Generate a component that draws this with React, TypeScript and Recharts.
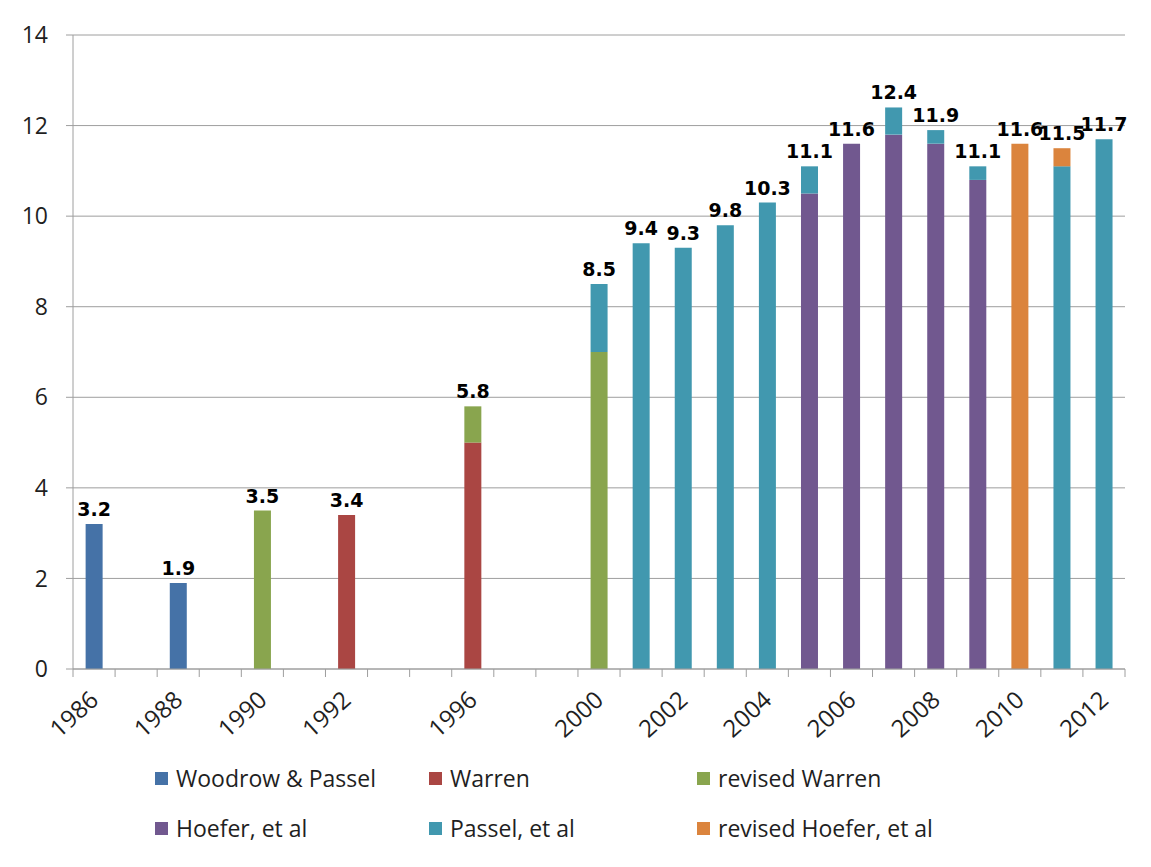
import { Bar, BarChart, CartesianGrid, LabelList, Legend, XAxis, YAxis } from "recharts";

// one slot per category on the axis; blank slots carry no label
const tickLabels = [
  "1986", "", "1988", "", "1990", "", "1992", "", "", "1996", "", "", "2000",
  "", "2002", "", "2004", "", "2006", "", "2008", "", "2010", "", "2012",
];

const woodrowPassel = [3.2, null, 1.9, null, null, null, null, null, null, null, null, null, null, null, null, null, null, null, null, null, null, null, null, null, null];
const warren = [null, null, null, null, null, null, 3.4, null, null, 5.0, null, null, null, null, null, null, null, null, null, null, null, null, null, null, null];
const revisedWarren = [null, null, null, null, 3.5, null, null, null, null, 0.8, null, null, 7.0, null, null, null, null, null, null, null, null, null, null, null, null];
const hoefer = [null, null, null, null, null, null, null, null, null, null, null, null, null, null, null, null, null, 10.5, 11.6, 11.8, 11.6, 10.8, null, null, null];
const passel = [null, null, null, null, null, null, null, null, null, null, null, null, 1.5, 9.4, 9.3, 9.8, 10.3, 0.6, null, 0.6, 0.3, 0.3, null, 11.1, 11.7];
const revisedHoefer = [null, null, null, null, null, null, null, null, null, null, null, null, null, null, null, null, null, null, null, null, null, null, 11.6, 0.4, null];

const SERIES = [
  { key: "woodrow", name: "Woodrow & Passel", values: woodrowPassel, color: "#4572A7" },
  { key: "warren", name: "Warren", values: warren, color: "#AA4643" },
  { key: "revWarren", name: "revised Warren", values: revisedWarren, color: "#89A54E" },
  { key: "hoefer", name: "Hoefer, et al", values: hoefer, color: "#71588F" },
  { key: "passel", name: "Passel, et al", values: passel, color: "#4198AF" },
  { key: "revHoefer", name: "revised Hoefer, et al", values: revisedHoefer, color: "#DB843D" },
];

const yTicks = [0, 2, 4, 6, 8, 10, 12, 14];

const CHART_W = 1139;
const CHART_H = 855;
const MARGIN = { top: 29, right: 20, bottom: 92, left: 0 };
const Y_AXIS_W = 67;
const PLOT_W = CHART_W - MARGIN.left - MARGIN.right - Y_AXIS_W;
const BAND = PLOT_W / tickLabels.length;
const GRID = "#9e9e9e";
const TEXT = "#1f1f1f";
const FONT = "'Open Sans', sans-serif";

// each row gets the series values plus a "<key>Top" field holding the stack total,
// set only on the series that sits on top of that stack
const data = tickLabels.map((_, i) => {
  const row: Record<string, number | null> = { slot: i };
  let total = 0;
  let top: string | null = null;
  for (const s of SERIES) {
    const v = s.values[i];
    row[s.key] = v;
    if (v != null && v > 0) {
      total += v;
      top = s.key;
    }
  }
  for (const s of SERIES) {
    row[s.key + "Top"] = s.key === top ? Math.round(total * 10) / 10 : null;
  }
  return row;
});

function XTick(props: any) {
  const { x, y, payload } = props;
  const idx = Number(payload.value);
  const label = tickLabels[idx];
  const left = x - BAND / 2;
  return (
    <g>
      <line x1={left} x2={left} y1={y} y2={y + 8} stroke={GRID} />
      {idx === tickLabels.length - 1 && (
        <line x1={x + BAND / 2} x2={x + BAND / 2} y1={y} y2={y + 8} stroke={GRID} />
      )}
      {label && (
        <text
          transform={`translate(${x + 6},${y + 33}) rotate(-42)`}
          textAnchor="end"
          fontSize={24}
          fontFamily={FONT}
          fill={TEXT}
        >
          {label}
        </text>
      )}
    </g>
  );
}

function TotalLabel(props: any) {
  const { value } = props;
  if (value == null) return null;
  const vb = props.viewBox ?? props;
  return (
    <text
      x={vb.x + vb.width / 2}
      y={vb.y - 8}
      textAnchor="middle"
      fontFamily="'DejaVu Sans', sans-serif"
      fontWeight="bold"
      fontSize={19}
      fill="#000"
    >
      {value}
    </text>
  );
}

function LegendGrid() {
  return (
    <div
      style={{
        display: "grid",
        gridTemplateColumns: "274px 268px 320px",
        gridAutoRows: "50px",
        alignItems: "center",
        fontFamily: FONT,
        fontSize: 23,
        color: TEXT,
      }}
    >
      {SERIES.map((s) => (
        <div key={s.key} style={{ display: "flex", alignItems: "center", whiteSpace: "nowrap" }}>
          <span style={{ width: 13, height: 13, background: s.color, marginRight: 8, display: "inline-block" }} />
          <span>{s.name}</span>
        </div>
      ))}
    </div>
  );
}

export default function App() {
  return (
    <div
      style={{
        marginLeft: -4,
        marginTop: -4,
        width: 1147,
        height: 863,
        borderTop: "2px solid #000",
        borderLeft: "2px solid #000",
        background: "#fff",
        fontFamily: FONT,
      }}
    >
      <BarChart width={CHART_W} height={CHART_H} data={data} margin={MARGIN} barCategoryGap="30%">
        <CartesianGrid vertical={false} stroke={GRID} />
        <XAxis
          dataKey="slot"
          type="category"
          interval={0}
          tickSize={0}
          tickMargin={0}
          height={100}
          stroke={GRID}
          tick={<XTick />}
        />
        <YAxis
          domain={[0, 14]}
          ticks={yTicks}
          width={Y_AXIS_W}
          stroke={GRID}
          tickSize={7}
          tickMargin={18}
          tick={{ fontSize: 23, fill: TEXT, fontFamily: FONT }}
        />
        <Legend
          layout="horizontal"
          verticalAlign="middle"
          align="center"
          wrapperStyle={{ top: 747, left: 149, width: 900, height: 100 }}
          content={<LegendGrid />}
        />
        {SERIES.map((s) => (
          <Bar key={s.key} dataKey={s.key} name={s.name} stackId="a" fill={s.color} isAnimationActive={false}>
            <LabelList dataKey={s.key + "Top"} content={<TotalLabel />} />
          </Bar>
        ))}
      </BarChart>
    </div>
  );
}
